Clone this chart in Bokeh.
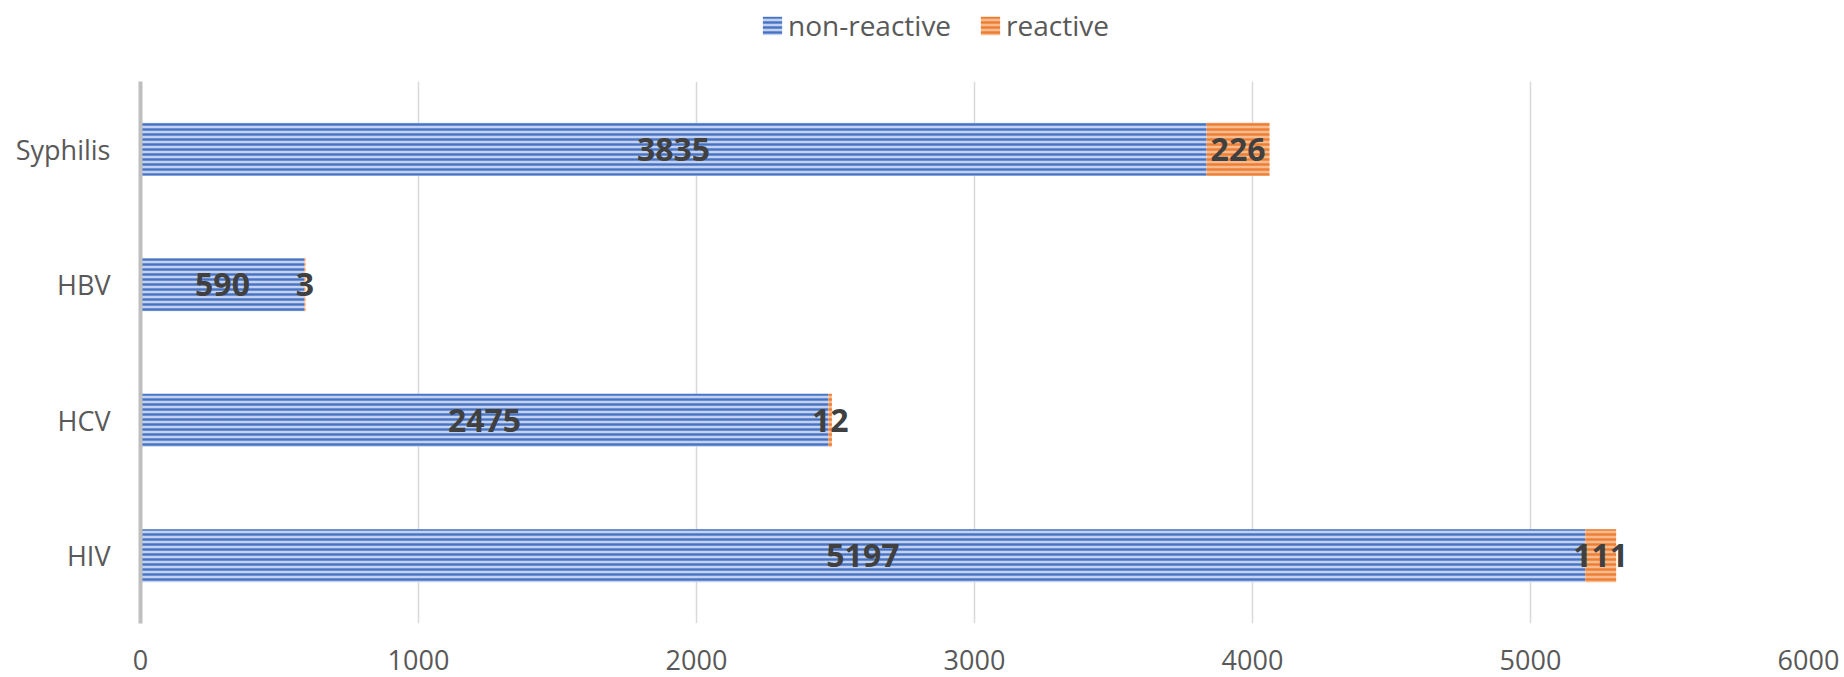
from bokeh.plotting import figure
from bokeh.layouts import column
from bokeh.models import ColumnDataSource, FactorRange, Range1d, Legend, LegendItem, LabelSet, FixedTicker
from bokeh.embed import file_html
from bokeh.resources import INLINE
from bokeh.core.properties import value

categories = ["HIV", "HCV", "HBV", "Syphilis"]
non_reactive = [5197, 2475, 590, 3835]
reactive = [111, 12, 3, 226]
x_ticks = [0, 1000, 2000, 3000, 4000, 5000, 6000]
series_names = ["non-reactive", "reactive"]
series_colors = ["#4472c4", "#ed7d31"]
series_fills = ["#c3d1ee", "#f7bb90"]

total = [a + b for a, b in zip(non_reactive, reactive)]
src = ColumnDataSource(dict(
    cat=categories,
    zero=[0] * len(categories),
    nr=non_reactive,
    tot=total,
    nr_mid=[a / 2 for a in non_reactive],
    r_mid=[a + b / 2 for a, b in zip(non_reactive, reactive)],
    nr_txt=[str(v) for v in non_reactive],
    r_txt=[str(v) for v in reactive],
))

FONT = "Open Sans"
TXT = "#595959"


def bar_style(i):
    return dict(fill_color=series_fills[i], line_color=None,
                hatch_pattern="horizontal_line", hatch_color=series_colors[i],
                hatch_weight=2.4, hatch_scale=5)


# ---- legend strip (top); its renderers hold one off-screen row so the swatches draw ----
lg = figure(width=1844, height=81, x_range=Range1d(0, 1), y_range=Range1d(0, 1),
            output_backend="svg", toolbar_location=None,
            x_axis_location=None, y_axis_location=None,
            min_border=0)
lg.outline_line_color = None
lg.grid.grid_line_color = None
hidden = ColumnDataSource(dict(y=[-5], left=[0], right=[0]))
d1 = lg.hbar(y="y", left="left", right="right", height=0.1, source=hidden, **bar_style(0))
d2 = lg.hbar(y="y", left="left", right="right", height=0.1, source=hidden, **bar_style(1))
legend = Legend(items=[LegendItem(label=series_names[0], renderers=[d1]),
                       LegendItem(label=series_names[1], renderers=[d2])],
                orientation="horizontal", location=(620, 37),
                glyph_width=24, glyph_height=23, label_standoff=4, spacing=27,
                padding=0, margin=0, border_line_color=None,
                background_fill_alpha=0,
                label_text_font=FONT, label_text_font_size="28px",
                label_text_color=TXT)
lg.add_layout(legend, "center")

# ---- main chart ----
p = figure(width=1844, height=596, y_range=FactorRange(*categories),
           x_range=Range1d(0, 6000), output_backend="svg", toolbar_location=None,
           min_border_left=140, min_border_right=36, min_border_top=0, min_border_bottom=54)

r1 = p.hbar(y="cat", left="zero", right="nr", height=0.39, source=src, **bar_style(0))
r2 = p.hbar(y="cat", left="nr", right="tot", height=0.39, source=src, **bar_style(1))

for xcol, tcol in (("nr_mid", "nr_txt"), ("r_mid", "r_txt")):
    p.add_layout(LabelSet(x=xcol, y="cat", text=tcol, source=src,
                          text_align="center", text_baseline="middle",
                          text_font=value(FONT), text_font_style="bold",
                          text_font_size="32px", text_color="#404040"))

p.outline_line_color = None
p.ygrid.grid_line_color = None
p.xgrid.grid_line_color = "#d9d9d9"
p.xgrid.grid_line_width = 1.5
p.xaxis.ticker = FixedTicker(ticks=x_ticks)
p.xaxis.axis_line_color = None
p.xaxis.major_tick_line_color = None
p.xaxis.minor_tick_line_color = None
p.xaxis.major_label_standoff = 20
p.yaxis.axis_line_color = "#bfbfbf"
p.yaxis.axis_line_width = 4
p.yaxis.major_tick_line_color = None
p.yaxis.minor_tick_line_color = None
p.yaxis.major_label_standoff = 24
for ax in (p.xaxis, p.yaxis):
    ax.major_label_text_font = FONT
    ax.major_label_text_font_size = "27px"
    ax.major_label_text_color = TXT

layout = column(lg, p, spacing=0)
open("out.html", "w").write(file_html(layout, INLINE))
